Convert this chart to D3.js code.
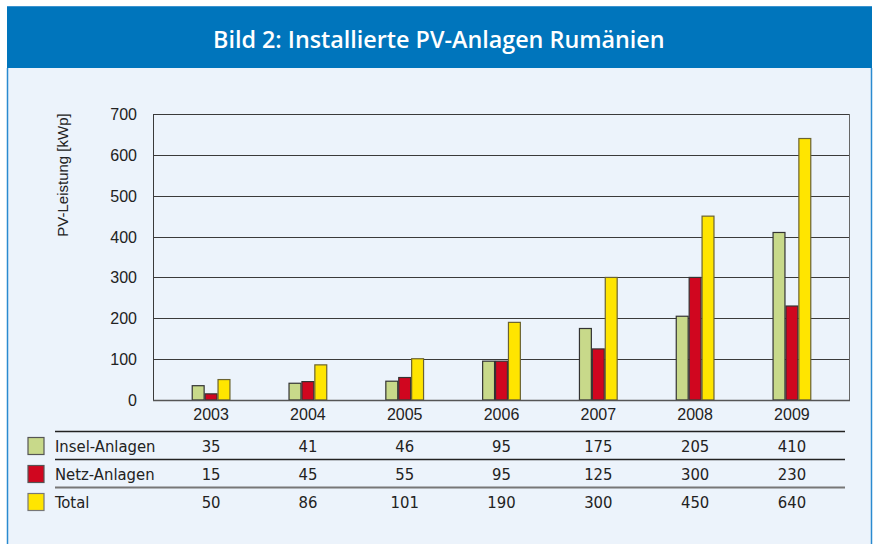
<!DOCTYPE html>
<html><head><meta charset="utf-8">
<script src="https://cdn.jsdelivr.net/npm/d3@7"></script>
<style>html,body{margin:0;padding:0;background:#fff;}svg{display:block;}</style>
</head><body>
<svg id="c" width="874" height="544"></svg>
<script>
const years = ["2003","2004","2005","2006","2007","2008","2009"];
const seriesNames = ["Insel-Anlagen","Netz-Anlagen","Total"];
const insel = [35,41,46,95,175,205,410];
const netz = [15,45,55,95,125,300,230];
const total = [50,86,101,190,300,450,640];
const yTicks = [0,100,200,300,400,500,600,700];
const title = "Bild 2: Installierte PV-Anlagen Rumänien";
const yLabel = "PV-Leistung [kWp]";

const values = [insel, netz, total];
const fills = ["#c8d98a","#d0061f","#ffe500"];
const strokes = ["#333","#333","#6b6330"];

const svg = d3.select("#c");
const cond = "'DejaVu Sans Condensed', 'DejaVu Sans', sans-serif";
const sans = "'Liberation Sans', Arial, sans-serif";

// frame
svg.append("rect").attr("x",8).attr("y",68).attr("width",863).attr("height",476).attr("fill","#ecf3fb");
svg.append("rect").attr("x",7).attr("y",6).attr("width",865).attr("height",62).attr("fill","#0075bc");
svg.append("line").attr("x1",7).attr("x2",872).attr("y1",6.5).attr("y2",6.5).attr("stroke","#3b93cf").attr("stroke-width",1);
svg.append("line").attr("x1",7.5).attr("x2",7.5).attr("y1",68).attr("y2",544).attr("stroke","#2a8ad0").attr("stroke-width",1.5);
svg.append("line").attr("x1",871.5).attr("x2",871.5).attr("y1",68).attr("y2",544).attr("stroke","#2a8ad0").attr("stroke-width",1.5);

const t = svg.append("text").attr("x",0).attr("y",48).attr("fill","#fff")
  .attr("font-family","'Open Sans', sans-serif").attr("font-weight",600).attr("font-size",24).text(title);
const tw = t.node().getComputedTextLength();
const target = 452, sx = target/tw;
t.attr("transform",`translate(${439 - target/2},0) scale(${sx},1)`);

// scales
const x = d3.scaleBand().domain(years).range([153,850]).paddingInner(0.6).paddingOuter(0.4);
const xs = d3.scaleBand().domain(seriesNames).range([0,x.bandwidth()]);
const y = d3.scaleLinear().domain([0,700]).range([400,114]);

// grid
svg.append("g").selectAll("line").data(yTicks.slice(1)).join("line")
  .attr("x1",153).attr("x2",850).attr("y1",d=>Math.round(y(d))+0.5).attr("y2",d=>Math.round(y(d))+0.5)
  .attr("stroke","#3a3a3a").attr("stroke-width",1);

// bars
seriesNames.forEach((s,i)=>{
  svg.append("g").selectAll("rect").data(years).join("rect")
    .attr("x",d=>x(d)+xs(s)+0.5).attr("width",xs.bandwidth()-1)
    .attr("y",(d,j)=>y(values[i][j])).attr("height",(d,j)=>y(0)-y(values[i][j]))
    .attr("fill",fills[i]).attr("stroke",strokes[i]).attr("stroke-width",1.2);
});

// axis frame
svg.append("line").attr("x1",153.5).attr("x2",153.5).attr("y1",y(700)).attr("y2",y(0)).attr("stroke","#3a3a3a");
svg.append("line").attr("x1",849.5).attr("x2",849.5).attr("y1",y(700)).attr("y2",y(0)).attr("stroke","#666");
svg.append("line").attr("x1",153).attr("x2",850).attr("y1",400.5).attr("y2",400.5).attr("stroke","#555").attr("stroke-width",1.5);

// y ticks
svg.append("g").selectAll("text").data(yTicks).join("text")
  .attr("x",137).attr("y",d=>y(d)+6).attr("text-anchor","end")
  .attr("font-family",sans).attr("font-size",16).attr("fill","#222").text(d=>d);

svg.append("text").attr("transform","translate(67.5,175) rotate(-90)").attr("text-anchor","middle")
  .attr("font-family",sans).attr("font-size",15).attr("fill","#222").text(yLabel);

// x labels
const cx = d=>x(d)+x.bandwidth()/2;
svg.append("g").selectAll("text").data(years).join("text")
  .attr("x",d=>cx(d)).attr("y",420).attr("text-anchor","middle")
  .attr("font-family",sans).attr("font-size",16).attr("fill","#222").text(d=>d);

// table
const rowY = [446,474,502];
const lineY = [431,459,487];
const lineCol = ["#222","#222","#777"];
const lineW = [1.3,1.3,2];
lineY.forEach((ly,i)=>{
  svg.append("line").attr("x1",55).attr("x2",845).attr("y1",ly+0.5).attr("y2",ly+0.5)
    .attr("stroke",lineCol[i]).attr("stroke-width",lineW[i]);
});
seriesNames.forEach((s,i)=>{
  svg.append("rect").attr("x",28).attr("y",rowY[i]-8.5).attr("width",16).attr("height",17)
    .attr("fill",fills[i]).attr("stroke",i===2?"#777":"#555").attr("stroke-width",1.2);
  svg.append("text").attr("x",55).attr("y",rowY[i]+6).attr("font-family",cond)
    .attr("font-size",16.5).attr("fill","#222").text(s);
  svg.append("g").selectAll("text").data(years).join("text")
    .attr("x",d=>cx(d)).attr("y",rowY[i]+6).attr("text-anchor","middle")
    .attr("font-family",cond).attr("font-size",16.5).attr("fill","#222")
    .text((d,j)=>values[i][j]);
});
</script>
</body></html>
